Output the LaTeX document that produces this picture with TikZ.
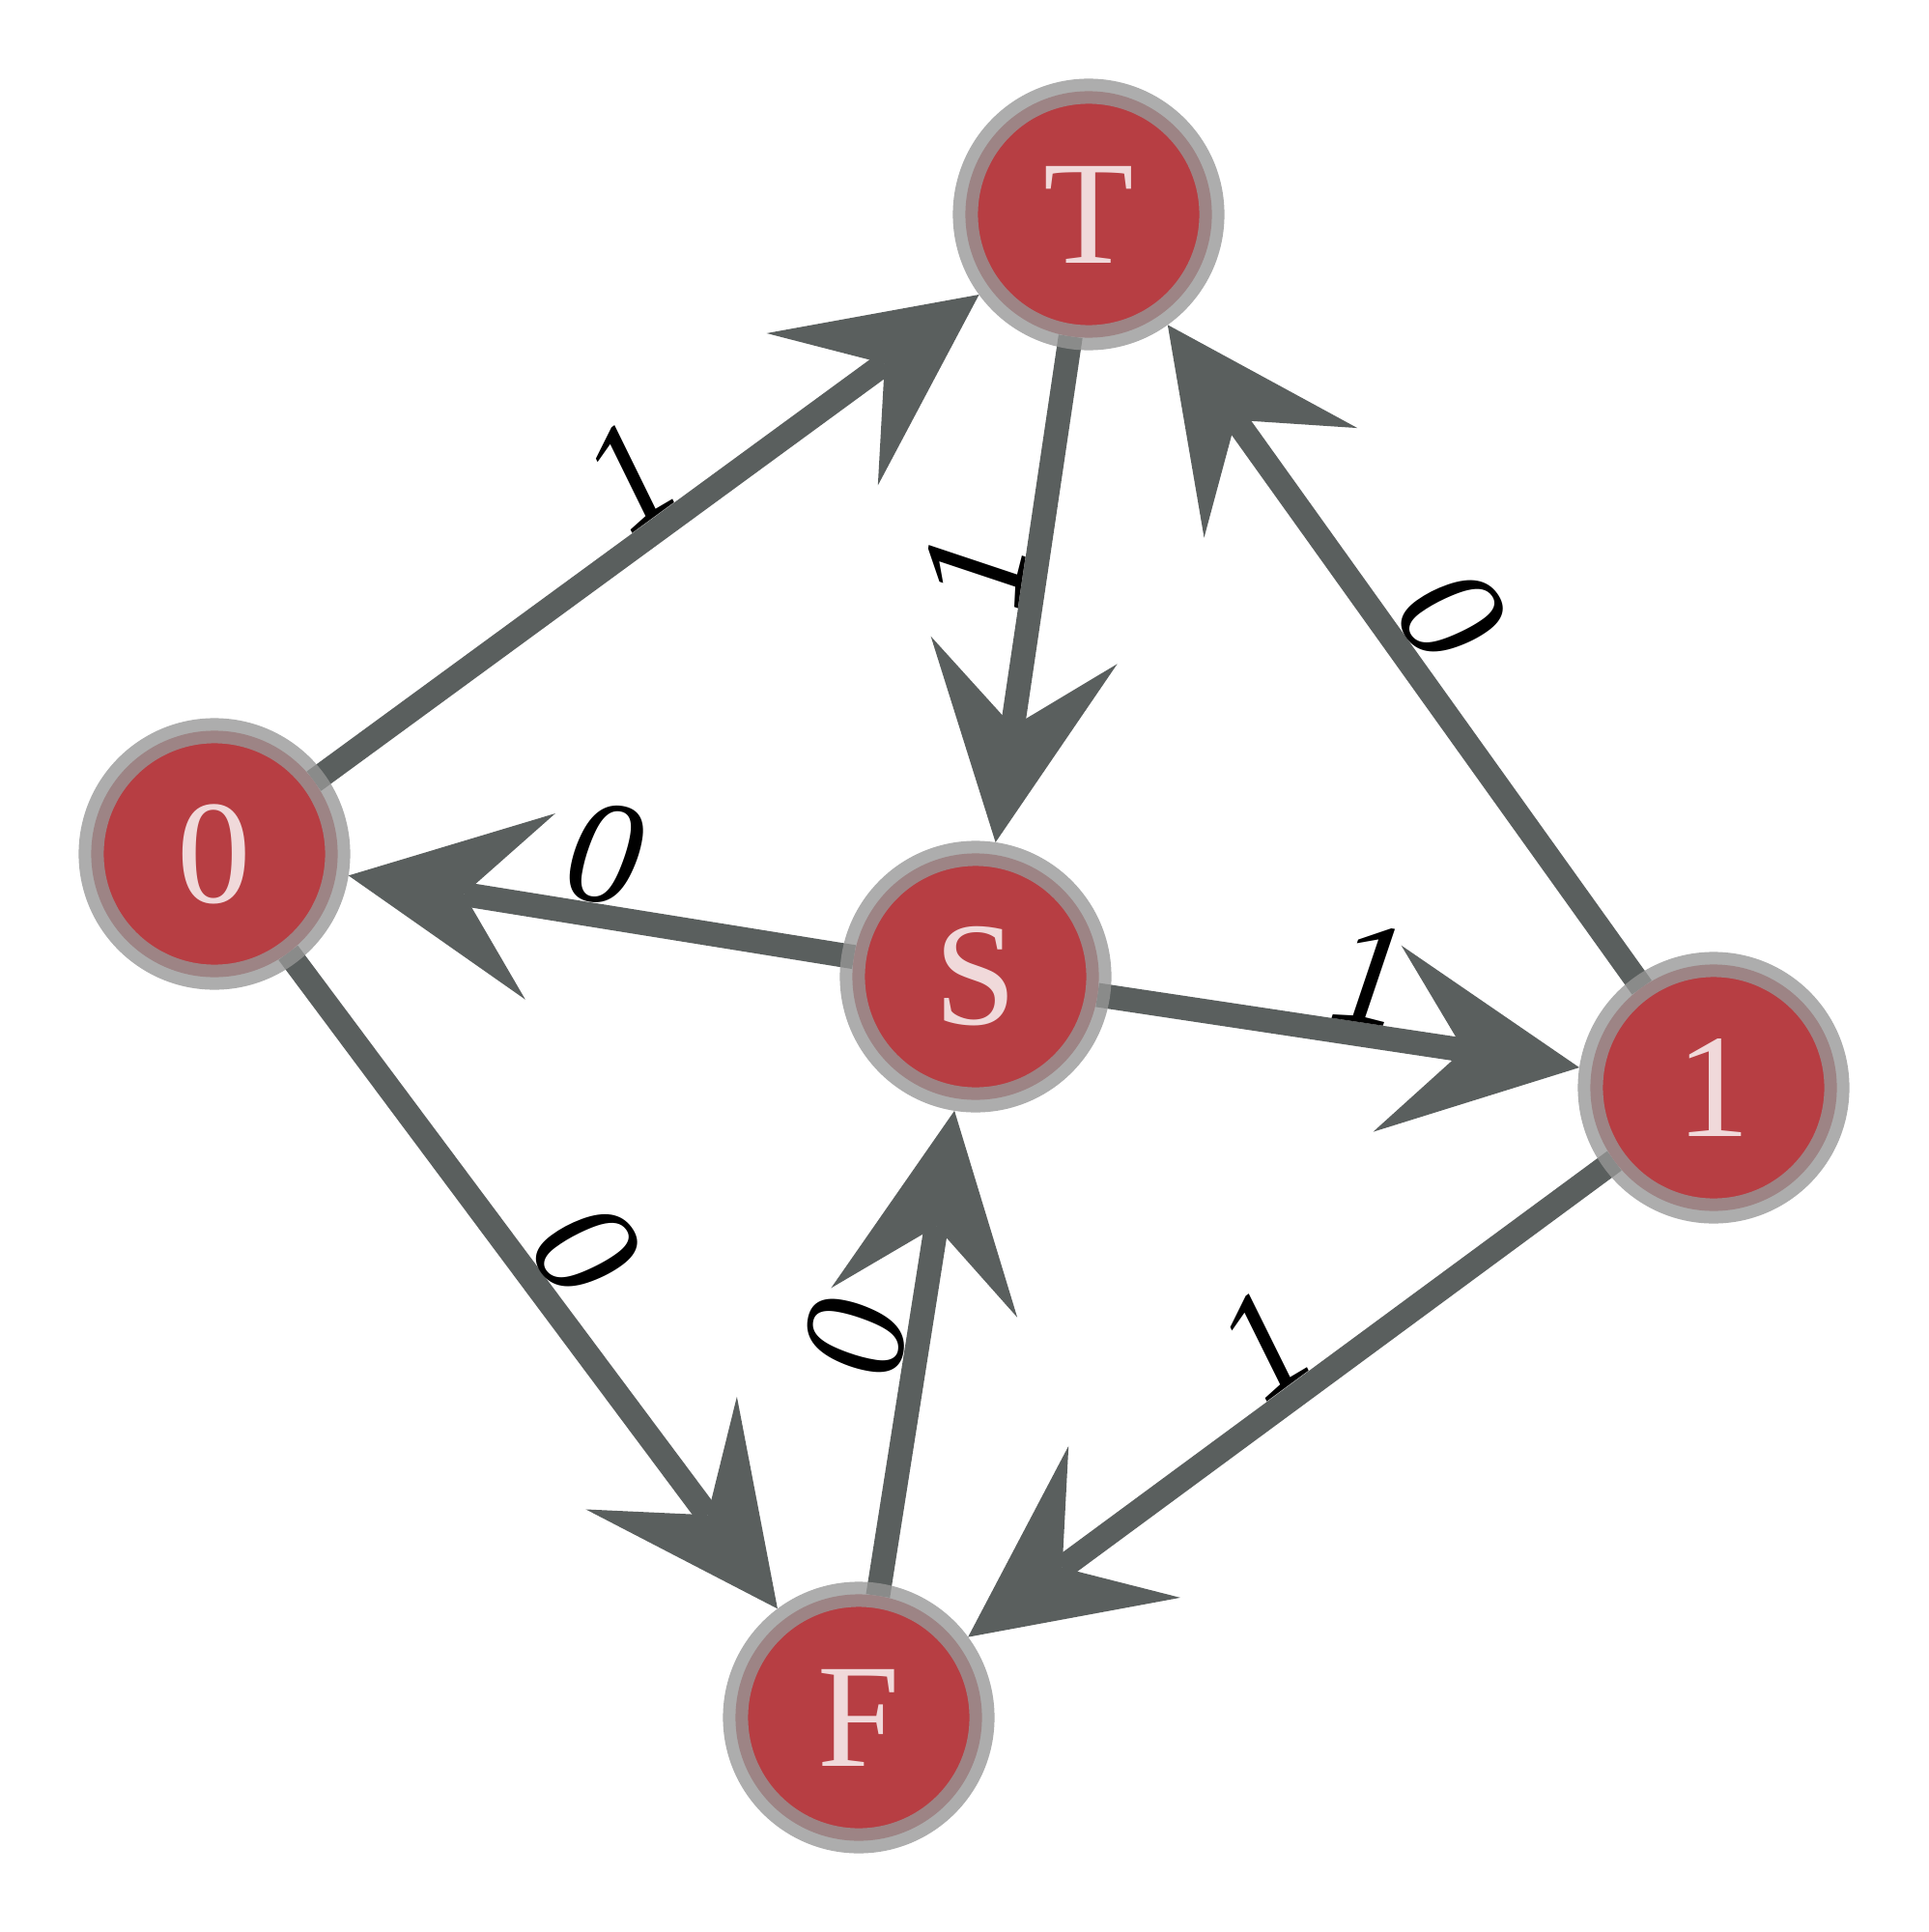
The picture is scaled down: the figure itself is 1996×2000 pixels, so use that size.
\documentclass[tikz,border=0pt]{standalone}
\usepackage{fontspec}
\setmainfont{Liberation Serif}
\usetikzlibrary{arrows.meta,backgrounds}
\definecolor{nodered}{RGB}{183,62,67}
\definecolor{nodetext}{RGB}{240,217,218}
\definecolor{edgegray}{RGB}{90,95,94}
\definecolor{ringgray}{RGB}{151,151,151}
\begin{document}
\begin{tikzpicture}[x=0.01cm,y=-0.01cm,
  state/.style={circle, inner sep=0pt, minimum size=2.55cm, outer sep=0pt,
    line width=0.26cm, fill=nodered, draw=ringgray, draw opacity=0.79,
    text=nodetext, font=\fontsize{43.5pt}{52pt}\selectfont},
  conn/.style={draw=edgegray, line width=0.25cm, shorten >=0.13cm,
    -{Stealth[length=2.01cm,width=1.95cm,inset=0.8cm,line width=0pt]}},
  lbl/.style={midway, sloped, above, inner sep=3.5pt, outer sep=0pt, text=black,
    font=\fontsize{43.5pt}{52pt}\selectfont\itshape},
  lblone/.style={lbl, xshift=5pt}]
\useasboundingbox (0,0) rectangle (1996,2000);
\node[state] (T)  at (1127,222)  {T};
\node[state] (n0) at (222,884)   {0};
\node[state] (S)  at (1010,1011) {S};
\node[state] (n1) at (1774,1126) {1};
\node[state] (F)  at (889,1778)  {F};
\begin{pgfonlayer}{background}
\fill[white] (0,0) rectangle (1996,2000);
\draw[conn] (n0) -- node[lblone]{1} (T);
\draw[conn] (T) -- node[lblone]{1} (S);
\draw[conn] (n1) -- node[lbl]{0} (T);
\draw[conn] (S) -- node[lbl]{0} (n0);
\draw[conn] (S) -- node[lblone]{1} (n1);
\draw[conn] (n0) -- node[lbl]{0} (F);
\draw[conn] (F) -- node[lbl]{0} (S);
\draw[conn] (n1) -- node[lblone]{1} (F);
\end{pgfonlayer}
\end{tikzpicture}
\end{document}
